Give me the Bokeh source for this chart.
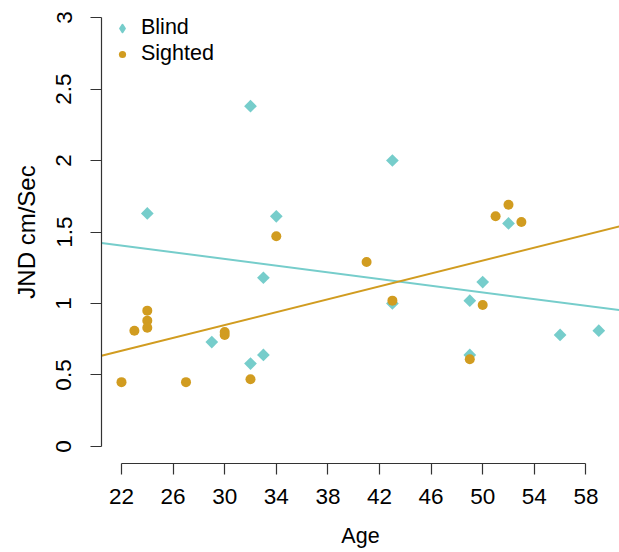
import numpy as np
from bokeh.plotting import figure
from bokeh.models import Range1d, FixedTicker, Legend
from bokeh.embed import file_html
from bokeh.resources import INLINE

# ---- data ----
blind_age = [24, 32, 34, 33, 29, 32, 33, 43, 52, 43, 49, 50, 49, 56, 59]
blind_jnd = [1.63, 2.38, 1.61, 1.18, 0.73, 0.58, 0.64, 2.00, 1.56, 1.00, 1.02, 1.15, 0.64, 0.78, 0.81]
sighted_age = [22, 23, 24, 24, 24, 27, 30, 30, 32, 34, 41, 43, 51, 52, 53, 50, 49]
sighted_jnd = [0.45, 0.81, 0.95, 0.88, 0.83, 0.45, 0.80, 0.78, 0.47, 1.47, 1.29, 1.02, 1.61, 1.69, 1.57, 0.99, 0.61]
x_ticks = [22, 26, 30, 34, 38, 42, 46, 50, 54, 58]
y_ticks = [0, 0.5, 1, 1.5, 2, 2.5, 3]
y_tick_labels = ["0", "0.5", "1", "1.5", "2", "2.5", "3"]

BLIND = "#76CDCB"
SIGHTED = "#D19C20"
AXIS = "#333333"
FONT = "Liberation Sans"

x0, x1 = 20.45, 60.605
y0, y1 = -0.119, 3.119

p = figure(width=619, height=552, output_backend="svg", toolbar_location=None,
           x_range=Range1d(x0, x1), y_range=Range1d(y0, y1),
           min_border_left=101, min_border_right=0, min_border_top=0, min_border_bottom=89)
p.grid.visible = False
p.outline_line_color = None
p.background_fill_color = "white"

# regression lines (least squares from the data)
xs_line = np.array([x0, x1])
bs, bi = np.polyfit(blind_age, blind_jnd, 1)
ss, si = np.polyfit(sighted_age, sighted_jnd, 1)
p.line(xs_line, bs * xs_line + bi, line_color=BLIND, line_width=2)
p.line(xs_line, ss * xs_line + si, line_color=SIGHTED, line_width=2)

rb = p.scatter(blind_age, blind_jnd, marker="square", angle=np.pi / 4, size=9,
               fill_color=BLIND, line_color=None)
rs = p.scatter(sighted_age, sighted_jnd, marker="circle", size=10,
               fill_color=SIGHTED, line_color=None)
# legend key for the blind series (diamond shape, not drawn in the plot area)
rb_key = p.scatter(blind_age, blind_jnd, marker="diamond", size=9,
                   fill_color=BLIND, line_color=BLIND, line_width=2, line_join="round",
                   visible=False)

legend = Legend(items=[("Blind", [rb_key]), ("Sighted", [rs])], location=(12, 397),
                margin=0, padding=0, spacing=1, glyph_width=18, glyph_height=18,
                label_standoff=10, border_line_color=None, background_fill_alpha=0,
                inactive_fill_alpha=0,
                label_text_font=FONT, label_text_font_size="21.5px", label_text_color="black")
p.add_layout(legend)

for ax in (p.xaxis[0], p.yaxis[0]):
    ax.axis_line_color = AXIS
    ax.axis_line_width = 1.2
    ax.major_tick_line_color = AXIS
    ax.major_tick_line_width = 1.2
    ax.major_tick_out = 11
    ax.major_tick_in = 0
    ax.minor_tick_out = 0
    ax.minor_tick_in = 0
    ax.major_label_text_font = FONT
    ax.major_label_text_font_size = "22.5px"
    ax.major_label_text_color = "black"
    ax.axis_label_text_font = FONT
    ax.axis_label_text_font_style = "normal"
    ax.axis_label_text_color = "black"

p.xaxis.ticker = FixedTicker(ticks=x_ticks)
p.xaxis.bounds = (x_ticks[0], x_ticks[-1])
p.xaxis.major_label_standoff = 14
p.xaxis.axis_label = "Age"
p.xaxis.axis_label_text_font_size = "21.5px"
p.xaxis.axis_label_standoff = 17

p.yaxis.ticker = FixedTicker(ticks=y_ticks)
p.yaxis.bounds = (y_ticks[0], y_ticks[-1])
p.yaxis.major_label_overrides = {t: l for t, l in zip(y_ticks, y_tick_labels)}
p.yaxis.major_label_orientation = "parallel"
p.yaxis.major_label_standoff = 19
p.yaxis.axis_label = "JND cm/Sec"
p.yaxis.axis_label_text_font_size = "24px"
p.yaxis.axis_label_standoff = 14

open("out.html", "w").write(file_html(p, INLINE))
